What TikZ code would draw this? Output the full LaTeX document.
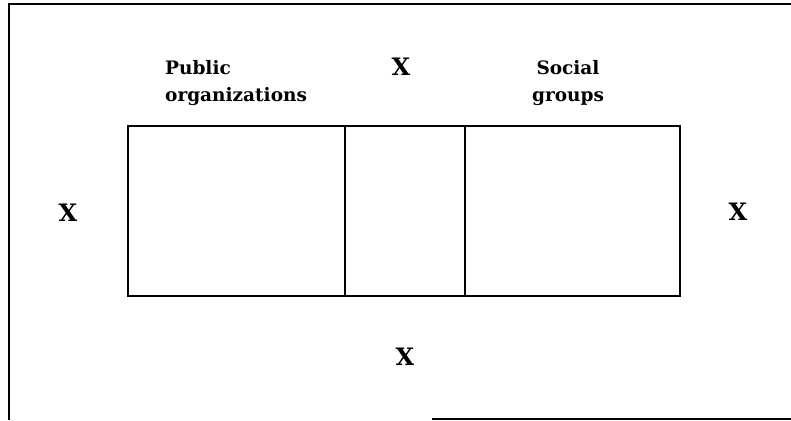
\documentclass[tikz,border=0pt]{standalone}
\usepackage{fontspec}
\setmainfont{DejaVu Serif}
\begin{document}
\begin{tikzpicture}[x=1pt,y=-1pt,
    lbl/.style={font=\bfseries\fontsize{18.5}{27}\selectfont, inner sep=0pt},
    cross/.style={font=\bfseries\fontsize{24}{28}\selectfont, inner sep=0pt},
    edge/.style={draw=black, line width=1.6pt}]
    \useasboundingbox (0,0) rectangle (791,420);
    % outer frame
    \draw[edge] (791,4) -- (9,4) -- (9,420);
    \draw[edge] (432,419) -- (791,419);
    % the three boxes
    \draw[edge] (128,126) rectangle (680,296);
    \draw[edge] (345,126) -- (345,296);
    \draw[edge] (465,126) -- (465,296);
    % labels
    \node[lbl, align=left, anchor=north west] (pub) at (165,60) {Public\\organizations};
    \node[lbl, align=center, anchor=north] (soc) at (568,60) {Social\\groups};
    \node[cross] (xtop) at (401,67) {X};
    \node[cross] (xleft) at (68,213) {X};
    \node[cross] (xright) at (738,212) {X};
    \node[cross] (xbot) at (405,357) {X};
\end{tikzpicture}
\end{document}
